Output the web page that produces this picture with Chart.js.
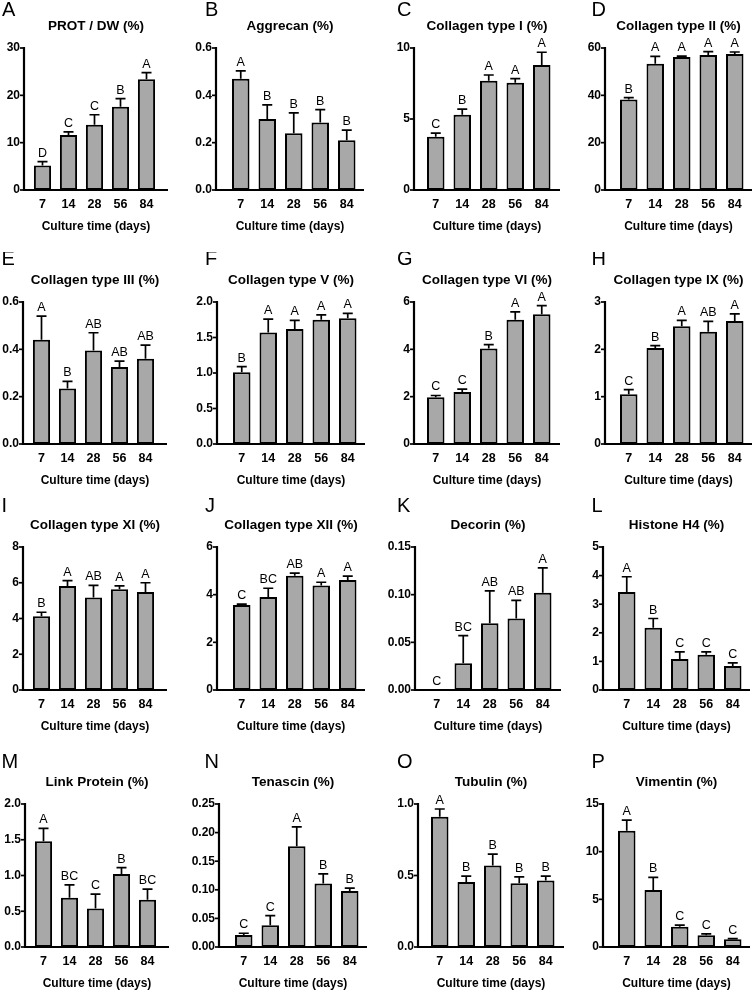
<!DOCTYPE html>
<html>
<head>
<meta charset="utf-8">
<script src="https://cdn.jsdelivr.net/npm/chart.js@4.4.1/dist/chart.umd.min.js"></script>
<style>
  html, body { margin: 0; padding: 0; background: #fff; overflow: hidden; }
  #wrap { position: relative; width: 754px; height: 991px; }
  #wrap canvas { position: absolute; }
</style>
</head>
<body>
<div id="wrap"></div>
<script>
const days = ["7", "14", "28", "56", "84"];
const panelLetters = ["A", "B", "C", "D", "E", "F", "G", "H", "I", "J", "K", "L", "M", "N", "O", "P"];
const titles = [
  "PROT / DW (%)", "Aggrecan (%)", "Collagen type I (%)", "Collagen type II (%)",
  "Collagen type III (%)", "Collagen type V (%)", "Collagen type VI (%)", "Collagen type IX (%)",
  "Collagen type XI (%)", "Collagen type XII (%)", "Decorin (%)", "Histone H4 (%)",
  "Link Protein (%)", "Tenascin (%)", "Tubulin (%)", "Vimentin (%)"
];
const xTitle = "Culture time (days)";

// bar heights (mean)
const means = [
  [5.2, 11.6, 13.8, 17.6, 23.4],
  [0.47, 0.30, 0.24, 0.285, 0.21],
  [3.75, 5.3, 7.7, 7.55, 8.8],
  [38.2, 53.3, 56.2, 57.0, 57.5],
  [0.44, 0.235, 0.395, 0.325, 0.36],
  [1.01, 1.57, 1.62, 1.75, 1.77],
  [1.98, 2.2, 4.03, 5.25, 5.48],
  [1.05, 2.03, 2.49, 2.37, 2.6],
  [4.12, 5.82, 5.17, 5.63, 5.48],
  [3.57, 3.9, 4.79, 4.38, 4.62],
  [0, 0.028, 0.07, 0.075, 0.102],
  [3.43, 2.18, 1.08, 1.23, 0.84],
  [1.48, 0.69, 0.54, 1.02, 0.66],
  [0.021, 0.038, 0.176, 0.111, 0.098],
  [0.91, 0.455, 0.57, 0.445, 0.465],
  [12.2, 5.98, 2.12, 1.22, 0.82]
];
// upper error bars
const errors = [
  [0.8, 0.7, 2.1, 1.7, 1.4],
  [0.033, 0.06, 0.086, 0.055, 0.043],
  [0.25, 0.4, 0.4, 0.3, 0.9],
  [0.8, 3.2, 0.4, 1.5, 0.8],
  [0.1, 0.03, 0.075, 0.025, 0.058],
  [0.08, 0.19, 0.12, 0.07, 0.07],
  [0.07, 0.12, 0.17, 0.33, 0.37],
  [0.1, 0.05, 0.12, 0.22, 0.15],
  [0.23, 0.3, 0.68, 0.19, 0.52],
  [0.03, 0.37, 0.11, 0.14, 0.16],
  [0, 0.029, 0.034, 0.019, 0.026],
  [0.53, 0.32, 0.25, 0.1, 0.11],
  [0.18, 0.18, 0.2, 0.09, 0.15],
  [0.003, 0.017, 0.034, 0.017, 0.005],
  [0.055, 0.04, 0.08, 0.045, 0.03],
  [1.1, 1.32, 0.18, 0.16, 0.06]
];
// significance groups above bars
const groups = [
  ["D", "C", "C", "B", "A"],
  ["A", "B", "B", "B", "B"],
  ["C", "B", "A", "A", "A"],
  ["B", "A", "A", "A", "A"],
  ["A", "B", "AB", "AB", "AB"],
  ["B", "A", "A", "A", "A"],
  ["C", "C", "B", "A", "A"],
  ["C", "B", "A", "AB", "A"],
  ["B", "A", "AB", "A", "A"],
  ["C", "BC", "AB", "A", "A"],
  ["C", "BC", "AB", "AB", "A"],
  ["A", "B", "C", "C", "C"],
  ["A", "BC", "C", "B", "BC"],
  ["C", "C", "A", "B", "B"],
  ["A", "B", "B", "B", "B"],
  ["A", "B", "C", "C", "C"]
];
const yMax = [30, 0.6, 10, 60, 0.6, 2, 6, 3, 8, 6, 0.15, 5, 2, 0.25, 1, 15];
const yStep = [10, 0.2, 5, 20, 0.2, 0.5, 2, 1, 2, 2, 0.05, 1, 0.5, 0.05, 0.5, 5];
const yDecimals = [0, 1, 0, 0, 1, 1, 0, 0, 0, 0, 2, 0, 1, 2, 1, 0];

// layout (pixels)
const axisLeft = [23.5, 215.5, 414, 605, 23, 216.5, 414, 605, 23, 216.5, 415, 603, 25, 219, 418, 603];
const colGap = [5.5, 11.5, 8.5, 10.5];
const colWidth = [130, 132.5, 132.5, 132.5];
const colEnd = [144, 148, 146, 147];
const letterX = [1.5, 204.5, 397, 591.5];
const rowTop = [48, 302, 547, 804];
const rowBase = [190, 444, 690, 947];
const letterBase = [16, 265, 512, 768];

const FONT = "'Liberation Sans', Arial, sans-serif";
const wrap = document.getElementById("wrap");

function makePanel(i) {
  const col = i % 4;
  const row = Math.floor(i / 4);
  const gap = colGap[col];
  const plotH = rowBase[row] - rowTop[row];
  const W = 182;
  const H = 50 + plotH + 45;
  const left = axisLeft[i] - 30;
  const topOff = rowTop[row] - 50;

  const cv = document.createElement("canvas");
  cv.width = W;
  cv.height = H;
  cv.style.left = left + "px";
  cv.style.top = topOff + "px";
  wrap.appendChild(cv);

  const decor = {
    id: "decor",
    afterDatasetsDraw(chart) {
      const { ctx, chartArea, scales } = chart;
      const ys = scales.y;
      const ax = chartArea.left - gap;
      const base = ys.getPixelForValue(0);
      const top = ys.getPixelForValue(yMax[i]);
      const bars = chart.getDatasetMeta(0).data;

      ctx.save();
      ctx.strokeStyle = "#000";
      ctx.fillStyle = "#000";

      // error bars (upper only)
      ctx.lineWidth = 1.7;
      bars.forEach((bar, j) => {
        if (errors[i][j] <= 0) return;
        const ey = ys.getPixelForValue(means[i][j] + errors[i][j]);
        ctx.beginPath();
        ctx.moveTo(bar.x, bar.y);
        ctx.lineTo(bar.x, ey);
        ctx.moveTo(bar.x - 5, ey);
        ctx.lineTo(bar.x + 5, ey);
        ctx.stroke();
      });

      // axes
      ctx.lineWidth = 2.2;
      ctx.beginPath();
      ctx.moveTo(ax, top - 1);
      ctx.lineTo(ax, base);
      ctx.lineTo(ax + colEnd[col], base);
      ctx.stroke();

      ctx.lineWidth = 1.7;
      ys.ticks.forEach(t => {
        const py = ys.getPixelForValue(t.value);
        ctx.beginPath();
        ctx.moveTo(ax - 4, py);
        ctx.lineTo(ax, py);
        ctx.stroke();
      });

      // group letters
      ctx.font = "12.5px " + FONT;
      ctx.textAlign = "center";
      ctx.textBaseline = "alphabetic";
      bars.forEach((bar, j) => {
        const ey = ys.getPixelForValue(means[i][j] + errors[i][j]);
        ctx.fillText(groups[i][j], bar.x, ey - 5);
      });

      // titles
      const cx = ax + colEnd[col] / 2;
      ctx.font = "bold 13.5px " + FONT;
      ctx.fillText(titles[i], cx, top - 18);
      ctx.font = "bold 12px " + FONT;
      ctx.fillText(xTitle, cx, base + 40);

      // panel letter
      ctx.textAlign = "left";
      ctx.font = "20px " + FONT;
      ctx.fillText(panelLetters[i], letterX[col] - left, letterBase[row] - topOff);
      ctx.restore();
    }
  };

  new Chart(cv.getContext("2d"), {
    type: "bar",
    data: {
      labels: days,
      datasets: [{
        data: means[i],
        backgroundColor: "#a8a8a8",
        borderColor: "#000",
        borderWidth: 2,
        borderSkipped: false,
        barPercentage: 0.66,
        categoryPercentage: 1
      }]
    },
    options: {
      responsive: false,
      animation: false,
      layout: {
        padding: { top: 50, left: 0, bottom: 0, right: W - (30 + gap + colWidth[col]) }
      },
      scales: {
        x: {
          grid: { display: false, drawTicks: false },
          border: { display: false },
          ticks: { color: "#000", padding: 7, font: { family: FONT, size: 12.5, weight: "bold" } },
          afterFit(scale) { scale.height = 45; }
        },
        y: {
          min: 0,
          max: yMax[i],
          grid: { display: false, drawTicks: false },
          border: { display: false },
          ticks: {
            stepSize: yStep[i],
            color: "#000",
            padding: gap + 4,
            font: { family: FONT, size: 12, weight: "bold" },
            callback: v => Number(v).toFixed(yDecimals[i])
          },
          afterFit(scale) { scale.width = 30 + gap; }
        }
      },
      plugins: {
        legend: { display: false },
        tooltip: { enabled: false }
      }
    },
    plugins: [decor]
  });
}

for (let i = 0; i < titles.length; i++) makePanel(i);
</script>
</body>
</html>
